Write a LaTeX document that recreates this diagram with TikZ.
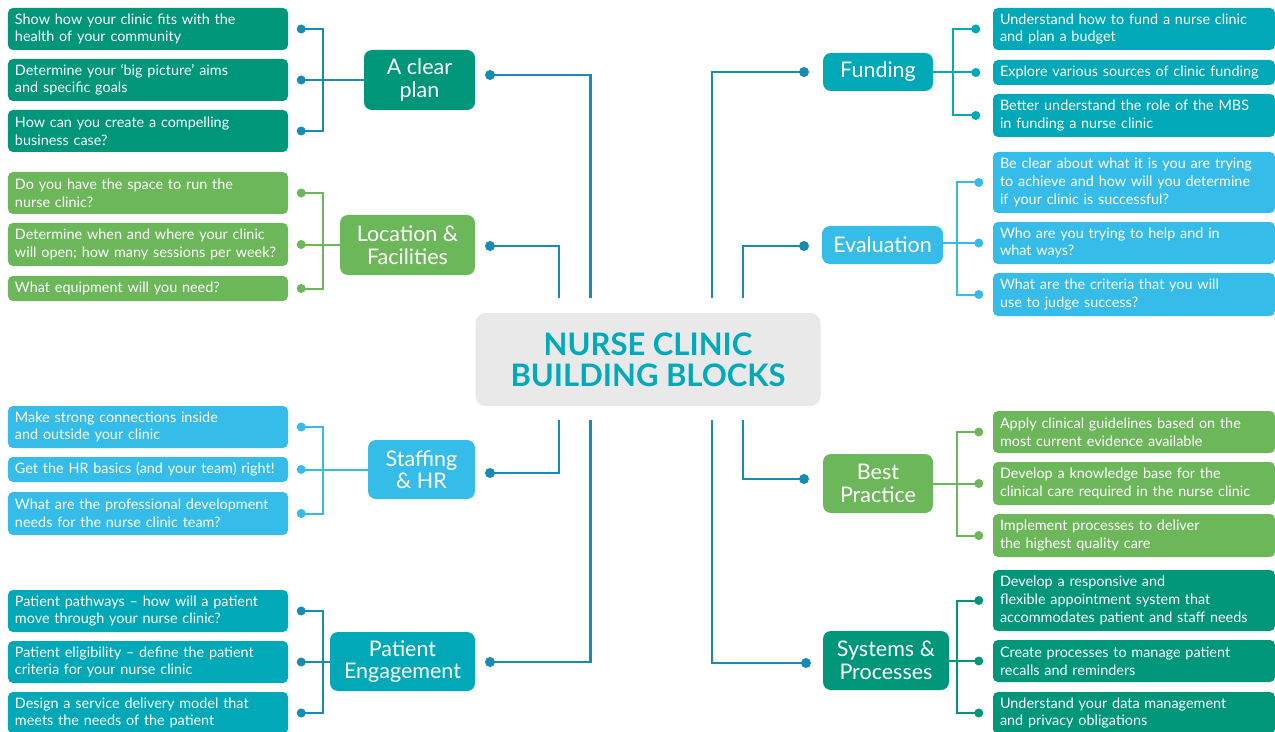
\documentclass[tikz,border=0pt]{standalone}
\usepackage{fontspec}
\setmainfont{Lato}
\usetikzlibrary{calc}
\definecolor{dgreen}{RGB}{0,150,122}
\definecolor{lgreen}{RGB}{109,183,91}
\definecolor{lblue}{RGB}{54,188,233}
\definecolor{teal1}{RGB}{0,168,184}
\definecolor{mainblue}{RGB}{22,140,178}
\definecolor{cgray}{RGB}{233,233,233}
\definecolor{ttl}{RGB}{0,170,186}
\newcommand\lfont{\fontsize{14.4bp}{17.6bp}\selectfont}
\newcommand\cfont{\fontsize{21.5bp}{22.5bp}\selectfont}
\newcommand\tfont{\fontsize{31bp}{31bp}\selectfont\bfseries}
% left leaf: name, ytop, ybot, colour, text
\newcommand\leafL[5]{\node[leaf,fill=#4,text width=266bp,minimum height={(#3-#2)*1bp}] (#1) at (148,{(#2+#3)/2}) {#5};}
% right leaf
\newcommand\leafR[5]{\node[leaf,fill=#4,text width=268bp,minimum height={(#3-#2)*1bp}] (#1) at (1134,{(#2+#3)/2}) {#5};}
% left bracket: cat, l1, l2, l3, colour
\newcommand\bracketL[5]{%
  \coordinate (#2d) at ([xshift=13bp]#2.east);
  \coordinate (#3d) at ([xshift=13bp]#3.east);
  \coordinate (#4d) at ([xshift=13bp]#4.east);
  \draw[brk,draw=#5] (#2d) -| ([xshift=35bp]#4.east) -- (#4d);
  \draw[brk,draw=#5] (#3d) -- (#3d -| #1.west);
  \fill[#5] (#2d) circle[radius=4.5bp] (#3d) circle[radius=4.5bp] (#4d) circle[radius=4.5bp];
}
% right bracket: cat, r1, r2, r3, colour, dot shift, vertical shift
\newcommand\bracketR[7]{%
  \coordinate (#2d) at ([xshift=-#6bp]#2.west);
  \coordinate (#3d) at ([xshift=-#6bp]#3.west);
  \coordinate (#4d) at ([xshift=-#6bp]#4.west);
  \draw[brk,draw=#5] (#2d) -| ([xshift=-#7bp]#4.west) -- (#4d);
  \draw[brk,draw=#5] (#3d) -- (#3d -| #1.east);
  \fill[#5] (#2d) circle[radius=4.5bp] (#3d) circle[radius=4.5bp] (#4d) circle[radius=4.5bp];
}
\begin{document}
\begin{tikzpicture}[x=1bp,y=-1bp,
  leaf/.style={rounded corners=5bp, text=white, font=\lfont, align=left, inner xsep=7bp, inner ysep=0pt},
  cat/.style={rounded corners=8bp, text=white, font=\cfont, align=center, inner sep=0pt},
  main/.style={draw=mainblue, line width=2.5bp},
  brk/.style={line width=2bp},
  mdot/.style={fill=mainblue}]
\useasboundingbox (0,0) rectangle (1275,732);
\fill[white] (0,0) rectangle (1275,732);

% centre
\node[fill=cgray, rounded corners=10bp, minimum width=345bp, minimum height=93bp, text=ttl, font=\tfont, align=center, inner sep=0pt] (C) at (648,359.5) {NURSE CLINIC\\BUILDING BLOCKS};

% categories
\node[cat,fill=dgreen,minimum width=111bp,minimum height=60bp] (A) at (419.5,80) {A clear\\plan};
\node[cat,fill=lgreen,minimum width=135bp,minimum height=60bp] (L) at (407.5,245) {Location \&\\Facilities};
\node[cat,fill=lblue,minimum width=107bp,minimum height=59bp] (S) at (421.5,469.5) {Staffing\\\& HR};
\node[cat,fill=teal1,minimum width=145bp,minimum height=59bp] (P) at (402.5,661.5) {Patient\\Engagement};
\node[cat,fill=teal1,minimum width=110bp,minimum height=38bp] (F) at (878,72) {Funding};
\node[cat,fill=lblue,minimum width=121bp,minimum height=38bp] (E) at (882.5,245) {Evaluation};
\node[cat,fill=lgreen,minimum width=110bp,minimum height=59bp] (B) at (878,483.5) {Best\\Practice};
\node[cat,fill=dgreen,minimum width=126bp,minimum height=59bp] (Y) at (886,660.5) {Systems \&\\Processes};

% left leaves
\leafL{a1}{8}{50}{dgreen}{Show how your clinic fits with the\\health of your community}
\leafL{a2}{59}{101}{dgreen}{Determine your ‘big picture’ aims\\and specific goals}
\leafL{a3}{110}{152}{dgreen}{How can you create a compelling\\business case?}
\leafL{l1}{172}{214}{lgreen}{Do you have the space to run the\\nurse clinic?}
\leafL{l2}{223}{266}{lgreen}{Determine when and where your clinic\\will open; how many sessions per week?}
\leafL{l3}{276}{301}{lgreen}{What equipment will you need?}
\leafL{s1}{406}{448}{lblue}{Make strong connections inside\\and outside your clinic}
\leafL{s2}{457}{482}{lblue}{Get the HR basics (and your team) right!}
\leafL{s3}{492}{535}{lblue}{What are the professional development\\needs for the nurse clinic team?}
\leafL{p1}{590}{632}{teal1}{Patient pathways – how will a patient\\move through your nurse clinic?}
\leafL{p2}{641}{683}{teal1}{Patient eligibility – define the patient\\criteria for your nurse clinic}
\leafL{p3}{692}{734}{teal1}{Design a service delivery model that\\meets the needs of the patient}

% right leaves
\leafR{f1}{8}{50}{teal1}{Understand how to fund a nurse clinic\\and plan a budget}
\leafR{f2}{60}{85}{teal1}{Explore various sources of clinic funding}
\leafR{f3}{94}{137}{teal1}{Better understand the role of the MBS\\in funding a nurse clinic}
\leafR{e1}{152}{213}{lblue}{Be clear about what it is you are trying\\to achieve and how will you determine\\if your clinic is successful?}
\leafR{e2}{222}{264}{lblue}{Who are you trying to help and in\\what ways?}
\leafR{e3}{273}{316}{lblue}{What are the criteria that you will\\use to judge success?}
\leafR{b1}{411}{453}{lgreen}{Apply clinical guidelines based on the\\most current evidence available}
\leafR{b2}{462}{505}{lgreen}{Develop a knowledge base for the\\clinical care required in the nurse clinic}
\leafR{b3}{514}{557}{lgreen}{Implement processes to deliver\\the highest quality care}
\leafR{y1}{570}{631}{dgreen}{Develop a responsive and\\flexible appointment system that\\accommodates patient and staff needs}
\leafR{y2}{640}{682}{dgreen}{Create processes to manage patient\\recalls and reminders}
\leafR{y3}{692}{734}{dgreen}{Understand your data management\\and privacy obligations}

% brackets
\bracketL{A}{a1}{a2}{a3}{mainblue}
\bracketL{L}{l1}{l2}{l3}{lgreen}
\bracketL{S}{s1}{s2}{s3}{lblue}
\bracketL{P}{p1}{p2}{p3}{mainblue}
\bracketR{F}{f1}{f2}{f3}{teal1}{17}{40}
\bracketR{E}{e1}{e2}{e3}{lblue}{14}{36}
\bracketR{B}{b1}{b2}{b3}{lgreen}{14}{36}
\bracketR{Y}{y1}{y2}{y3}{dgreen}{14}{36}

% main connectors
\coordinate (dA) at (490,75);   \coordinate (tA) at (590.5,298);
\coordinate (dL) at (490,246);  \coordinate (tL) at (559,298);
\coordinate (dS) at (490,473);  \coordinate (bS) at (559,420);
\coordinate (dP) at (490,662);  \coordinate (bP) at (590.5,420);
\coordinate (dF) at (804,72);   \coordinate (tF) at (712,298);
\coordinate (dE) at (804,246);  \coordinate (tE) at (743,298);
\coordinate (dB) at (804,479);  \coordinate (bB) at (743,420);
\coordinate (dY) at (806,663);  \coordinate (bY) at (712,420);
\draw[main] (dA) -| (tA);
\draw[main] (dL) -| (tL);
\draw[main] (bS) |- (dS);
\draw[main] (bP) |- (dP);
\draw[main] (dF) -| (tF);
\draw[main] (dE) -| (tE);
\draw[main] (bB) |- (dB);
\draw[main] (bY) |- (dY);
\foreach \d in {dA,dL,dS,dP,dF,dE,dB,dY} \fill[mdot] (\d) circle[radius=5bp];
\end{tikzpicture}
\end{document}
